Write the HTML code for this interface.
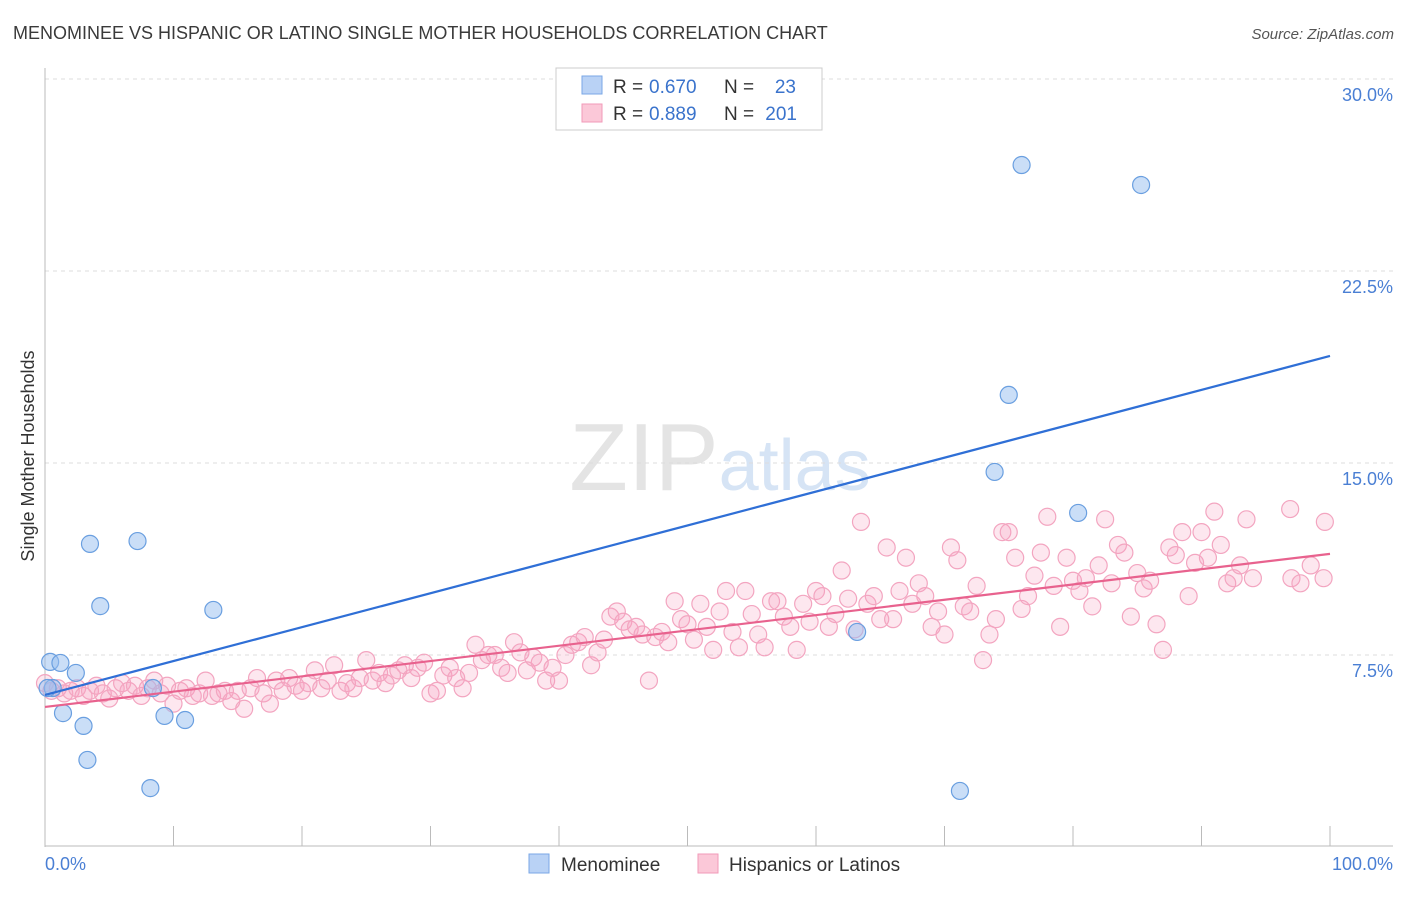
<!DOCTYPE html>
<html><head><meta charset="utf-8"><style>
body{margin:0;background:#fff;font-family:"Liberation Sans",sans-serif;}
svg text{font-family:"Liberation Sans",sans-serif;}
</style></head><body>
<svg id="chart" width="1406" height="892" xmlns="http://www.w3.org/2000/svg">
<text x="13" y="39" font-size="18" fill="#3a3a3a">MENOMINEE VS HISPANIC OR LATINO SINGLE MOTHER HOUSEHOLDS CORRELATION CHART</text>
<text x="1394" y="39" font-size="15" fill="#555" text-anchor="end" font-style="italic">Source: ZipAtlas.com</text>
<text x="720" y="490" font-size="96" fill="#e4e4e4" text-anchor="middle" font-family="Liberation Serif">ZIP<tspan fill="#d6e4f5" font-family="Liberation Sans" font-size="72">atlas</tspan></text>
<g id="grid"></g>
<g id="axes"></g>
<g id="pts"></g>
<g id="lines"></g>
<text transform="translate(34,456) rotate(-90)" font-size="18" fill="#333" text-anchor="middle">Single Mother Households</text>
<text x="45" y="870" font-size="18" fill="#4a7fd4">0.0%</text>
<text x="1393" y="870" font-size="18" fill="#4a7fd4" text-anchor="end">100.0%</text>
<g>
<rect x="556" y="68" width="266" height="62" fill="#fff" stroke="#ccc"/>
<rect x="582" y="76" width="20" height="18" fill="#b9d2f5" stroke="#7aa7e6"/>
<rect x="582" y="104" width="20" height="18" fill="#fbc8d8" stroke="#f19ab8"/>
<text x="613" y="93" font-size="19" fill="#333">R =</text>
<text x="649" y="93" font-size="19" fill="#3a73cc">0.670</text>
<text x="724" y="93" font-size="19" fill="#333">N =</text>
<text x="796" y="93" font-size="19" fill="#3a73cc" text-anchor="end">23</text>
<text x="613" y="120" font-size="19" fill="#333">R =</text>
<text x="649" y="120" font-size="19" fill="#3a73cc">0.889</text>
<text x="724" y="120" font-size="19" fill="#333">N =</text>
<text x="797" y="120" font-size="19" fill="#3a73cc" text-anchor="end">201</text>
</g>
<g>
<rect x="529" y="854" width="20" height="19" fill="#b9d2f5" stroke="#7aa7e6"/>
<text x="561" y="871" font-size="19" fill="#333">Menominee</text>
<rect x="698" y="854" width="20" height="19" fill="#fbc8d8" stroke="#f19ab8"/>
<text x="729" y="871" font-size="19" fill="#333">Hispanics or Latinos</text>
</g>
</svg>
<script>
const yTicks=[7.5,15,22.5,30];
const yTickLabels=["7.5%","15.0%","22.5%","30.0%"];
const xTicks=[0,10,20,30,40,50,60,70,80,90,100];
const blueX=[0.4,1.2,0.6,0.2,1.4,2.4,3.0,3.3,3.5,4.3,7.2,8.2,8.4,9.3,10.9,13.1,63.2,71.2,73.9,75.0,76.0,80.4,85.3];
const blueY=[7.23,7.19,6.21,6.21,5.23,6.80,4.73,3.40,11.84,9.41,11.95,2.30,6.21,5.12,4.96,9.26,8.40,2.19,14.65,17.66,26.64,13.05,25.86];
const pinkX=[];
const pinkY=[6.4,6.1,6.2,6.0,6.1,6.2,5.9,6.1,6.3,6.0,5.8,6.2,6.4,6.1,6.3,5.9,6.2,6.5,6.0,6.3,5.6,6.1,6.2,5.9,6.0,6.5,5.9,6.0,6.1,5.7,6.1,5.4,6.2,6.6,6.0,5.6,6.5,6.1,6.6,6.3,6.1,6.4,6.9,6.2,6.5,7.1,6.1,6.4,6.2,6.6,7.3,6.5,6.8,6.4,6.7,6.9,7.1,6.6,7.0,7.2,6.0,6.1,6.7,7.0,6.6,6.2,6.8,7.9,7.3,7.5,7.5,7.0,6.8,8.0,7.6,6.9,7.4,7.2,6.5,7.0,6.5,7.5,7.9,8.0,8.2,7.1,7.6,8.1,9.0,9.2,8.8,8.5,8.6,8.3,6.5,8.2,8.4,8.0,9.6,8.9,8.7,8.1,9.5,8.6,7.7,9.2,10.0,8.4,7.8,10.0,9.1,8.3,7.8,9.6,9.6,9.0,8.6,7.7,9.5,8.8,10.0,9.8,8.6,9.1,10.8,9.7,8.5,12.7,9.5,9.8,8.9,11.7,8.9,10.0,11.3,9.5,10.3,9.8,8.6,9.2,8.3,11.7,11.2,9.4,9.2,10.2,7.3,8.3,8.9,12.3,12.3,11.3,9.3,9.8,10.6,11.5,12.9,10.2,8.6,11.3,10.4,10.0,10.5,9.4,11.0,12.8,10.3,11.8,11.5,9.0,10.7,10.1,10.4,8.7,7.7,11.7,11.4,12.3,9.8,11.1,12.3,11.3,13.1,11.8,10.3,10.5,11.0,12.8,10.5];
for(let i=0;i<pinkY.length;i++)pinkX.push(i*0.5);
const pinkExtraX=[97.0,97.7,98.5,99.5,99.6,96.9];
const pinkExtraY=[10.5,10.3,11.0,10.5,12.7,13.2];
const blueLine=[[0,5.94],[100,19.18]];
const pinkLine=[[0,5.47],[100,11.45]];
const X0=45,X1=1330,Y0=847,PX=25.6;
const sx=v=>X0+(X1-X0)*v/100, sy=v=>Y0-v*PX;
const NS="http://www.w3.org/2000/svg";
function mk(tag,attrs,parent){const e=document.createElementNS(NS,tag);for(const k in attrs)e.setAttribute(k,attrs[k]);parent.appendChild(e);return e;}
const grid=document.getElementById('grid'),axes=document.getElementById('axes'),pts=document.getElementById('pts'),lines=document.getElementById('lines');
yTicks.forEach((t,i)=>{
 const l=mk('line',{x1:45,x2:1393,y1:sy(t),y2:sy(t),stroke:'#ddd','stroke-dasharray':'4,4'},grid);
 
 
 const tx=mk('text',{x:1393,y:sy(t)+22,'font-size':18,fill:'#4a7fd4','text-anchor':'end'},grid);
 tx.textContent=yTickLabels[i];
 
 
});
const ya=mk('line',{x1:45,x2:45,y1:68,y2:847,stroke:'#bbb'},axes);


const xa=mk('line',{x1:45,x2:1393,y1:846,y2:846,stroke:'#bbb'},axes);


xTicks.forEach(t=>{
 const l=mk('line',{x1:sx(t),x2:sx(t),y1:826,y2:846,stroke:'#bbb'},axes);
 
 
});
function dot(x,y,blue){
 const c=mk('circle',{cx:sx(x),cy:sy(y),r:8.5,fill:blue?'rgba(150,190,240,0.5)':'rgba(246,160,190,0.25)',stroke:blue?'#6a9fe0':'#f3a5c0','stroke-width':1.2},pts);
 
 
}
pinkX.forEach((x,i)=>dot(x,pinkY[i],false));
pinkExtraX.forEach((x,i)=>dot(x,pinkExtraY[i],false));
blueX.forEach((x,i)=>dot(x,blueY[i],true));
const bl=mk('line',{x1:sx(blueLine[0][0]),y1:sy(blueLine[0][1]),x2:sx(blueLine[1][0]),y2:sy(blueLine[1][1]),stroke:'#2f6fd6','stroke-width':2.2},lines);


const pl=mk('line',{x1:sx(pinkLine[0][0]),y1:sy(pinkLine[0][1]),x2:sx(pinkLine[1][0]),y2:sy(pinkLine[1][1]),stroke:'#e8628e','stroke-width':2.2},lines);


</script>
</body></html>
